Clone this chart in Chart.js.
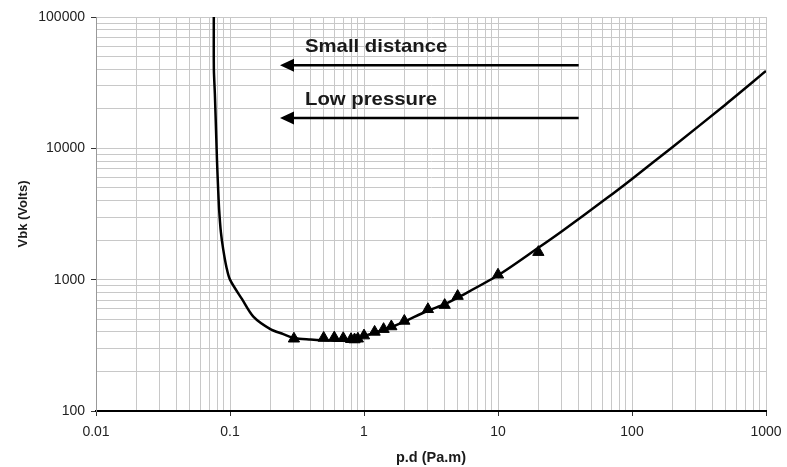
<!DOCTYPE html>
<html>
<head>
<meta charset="utf-8">
<script src="https://cdn.jsdelivr.net/npm/chart.js@4/dist/chart.umd.min.js"></script>
<style>
  html, body { margin: 0; padding: 0; background: #fff; }
  #wrap { width: 787px; height: 467px; }
</style>
</head>
<body>
<div id="wrap"><canvas id="paschen"></canvas></div>
<script>
// Paschen curve, breakdown voltage vs p.d
const xLabels = [0.01, 0.1, 1, 10, 100, 1000];
const yLabels = [100, 1000, 10000, 100000];

// fitted curve
const curveX = [0.0757, 0.0758, 0.0771, 0.079, 0.08, 0.0815, 0.083, 0.0855, 0.089, 0.094, 0.1, 0.123, 0.15, 0.2, 0.25, 0.3, 0.4, 0.5, 0.6, 0.8, 0.9, 1, 1.2, 1.4, 1.6, 2, 3, 4, 5, 10, 20, 30, 65, 100, 200, 500, 1000];
const curveY = [100000, 40000, 26000, 12000, 8000, 5000, 3400, 2300, 1700, 1250, 1000, 710, 520, 420, 385, 360, 350, 345, 343, 343, 350, 370, 395, 415, 435, 480, 580, 650, 730, 1080, 1750, 2340, 4180, 5850, 10200, 21600, 38800];

// measured points (triangles)
const markX = [0.3, 0.5, 0.6, 0.7, 0.8, 0.85, 0.9, 1, 1.2, 1.4, 1.6, 2, 3, 4, 5, 10, 20];
const markY = [355, 360, 362, 358, 352, 350, 355, 375, 400, 420, 440, 485, 595, 640, 750, 1090, 1620];

// arrows: label, height (Volts), from / to (p.d)
const arrowText = ['Small distance', 'Low pressure'];
const arrowY = [43000, 17000];
const arrowFrom = 40;
const arrowTo = 0.236;

function logTicks(majors) {
  const out = [];
  for (let i = 0; i < majors.length - 1; i++) {
    for (let k = 1; k <= 9; k++) out.push(parseFloat((majors[i] * k).toPrecision(3)));
  }
  out.push(majors[majors.length - 1]);
  return out;
}

const arrowsPlugin = {
  id: 'arrows',
  afterDatasetsDraw(chart) {
    const ctx = chart.ctx;
    const xs = chart.scales.x, ys = chart.scales.y;
    ctx.save();
    for (let i = 0; i < arrowText.length; i++) {
      const y = ys.getPixelForValue(arrowY[i]);
      const x0 = xs.getPixelForValue(arrowFrom);
      const x1 = xs.getPixelForValue(arrowTo);
      ctx.strokeStyle = '#000';
      ctx.fillStyle = '#000';
      ctx.lineWidth = 2.5;
      ctx.beginPath();
      ctx.moveTo(x0, y);
      ctx.lineTo(x1 + 10, y);
      ctx.stroke();
      ctx.beginPath();
      ctx.moveTo(x1, y);
      ctx.lineTo(x1 + 14, y - 6.5);
      ctx.lineTo(x1 + 14, y + 6.5);
      ctx.closePath();
      ctx.fill();
      // text is a bit wide in the original
      ctx.save();
      ctx.translate(x1 + 25, y - 18);
      ctx.scale(1.07, 1);
      ctx.font = 'bold 19px "Liberation Sans", Arial, sans-serif';
      ctx.textBaseline = 'middle';
      ctx.textAlign = 'left';
      ctx.fillStyle = '#1a1a1a';
      ctx.fillText(arrowText[i], 0, 0);
      ctx.restore();
    }
    ctx.restore();
  }
};

const tickFont = { family: '"Liberation Sans", Arial, sans-serif', size: 14 };

new Chart(document.getElementById('paschen').getContext('2d'), {
  type: 'scatter',
  data: {
    datasets: [
      {
        label: 'Curve',
        data: curveX.map((x, i) => ({ x: x, y: curveY[i] })),
        showLine: true,
        borderColor: '#000',
        borderWidth: 2.5,
        pointRadius: 0,
        tension: 0.3,
        order: 2
      },
      {
        label: 'Measured',
        data: markX.map((x, i) => ({ x: x, y: markY[i] })),
        showLine: false,
        pointStyle: 'triangle',
        pointRadius: 6.5,
        backgroundColor: '#000',
        borderColor: '#000',
        borderWidth: 1,
        order: 1
      }
    ]
  },
  options: {
    responsive: true,
    maintainAspectRatio: false,
    animation: false,
    layout: { padding: { top: 17, right: 21, left: 0, bottom: 0 } },
    plugins: {
      legend: { display: false },
      tooltip: { enabled: false }
    },
    scales: {
      x: {
        type: 'logarithmic',
        min: 0.01,
        max: 1000,
        afterBuildTicks: (axis) => { axis.ticks = logTicks(xLabels).map(v => ({ value: v })); },
        afterFit: (axis) => { axis.height = 56; axis.paddingLeft = 0; axis.paddingRight = 0; },
        ticks: {
          autoSkip: false,
          maxRotation: 0,
          padding: 8,
          color: '#222',
          font: tickFont,
          callback: (v) => xLabels.includes(v) ? String(v) : ''
        },
        grid: {
          color: '#c8c8c8',
          lineWidth: 1,
          tickLength: 5,
          tickColor: (c) => (c.tick && xLabels.includes(c.tick.value)) ? '#333' : 'rgba(0,0,0,0)'
        },
        border: { color: '#000', width: 2 },
        title: {
          display: true,
          text: 'p.d (Pa.m)',
          color: '#1a1a1a',
          font: { family: '"Liberation Sans", Arial, sans-serif', size: 14.5, weight: 'bold' },
          padding: { top: 0, bottom: 0 }
        }
      },
      y: {
        type: 'logarithmic',
        min: 100,
        max: 100000,
        afterBuildTicks: (axis) => { axis.ticks = logTicks(yLabels).map(v => ({ value: v })); },
        afterFit: (axis) => { axis.width = 96; axis.paddingTop = 0; axis.paddingBottom = 0; },
        ticks: {
          autoSkip: false,
          padding: 6,
          color: '#222',
          font: tickFont,
          callback: (v) => yLabels.includes(v) ? String(v) : ''
        },
        grid: {
          color: '#c8c8c8',
          lineWidth: 1,
          tickLength: 5,
          tickColor: (c) => (c.tick && yLabels.includes(c.tick.value)) ? '#333' : 'rgba(0,0,0,0)'
        },
        border: { color: '#999', width: 1 },
        title: {
          display: true,
          text: 'Vbk (Volts)',
          color: '#1a1a1a',
          font: { family: '"Liberation Sans", Arial, sans-serif', size: 13, weight: 'bold' },
          padding: { top: 16, bottom: 0 }
        }
      }
    }
  },
  plugins: [arrowsPlugin]
});
</script>
</body>
</html>
